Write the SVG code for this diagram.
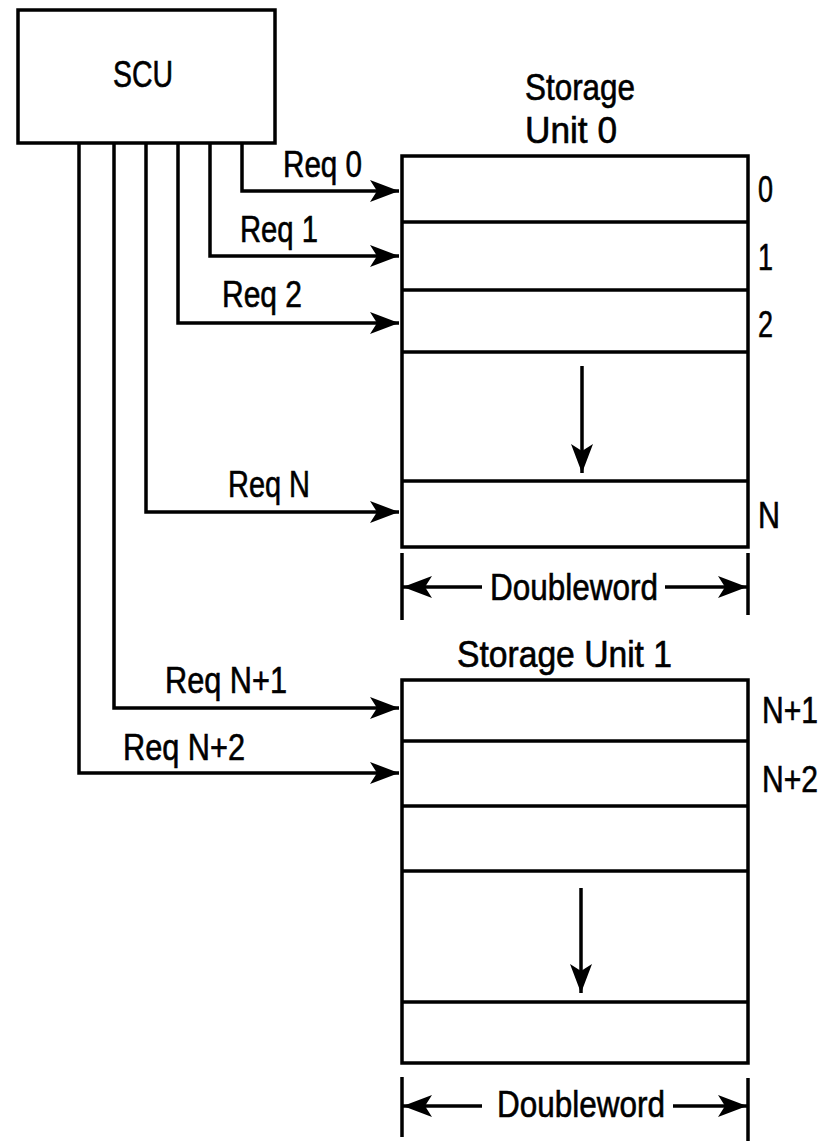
<svg xmlns="http://www.w3.org/2000/svg" width="827" height="1141" viewBox="0 0 827 1141">
<style>
.ln{stroke:#000;stroke-width:3.5;fill:none}
.bx{stroke:#000;stroke-width:3.5;fill:#fff}
.t{font-family:"Liberation Sans",Arial,sans-serif;font-size:36px;fill:#000;stroke:#000;stroke-width:0.6}
</style>
<defs>
<marker id="ah" viewBox="-30 -12 31 24" refX="0" refY="0" markerWidth="31" markerHeight="24" markerUnits="userSpaceOnUse" orient="auto">
<path d="M0,0 L-29,-11 L-22,0 L-29,11 Z" fill="#000"/>
</marker>
</defs>
<rect width="827" height="1141" fill="#fff"/>

<g id="scu">
<rect class="bx" x="18" y="10" width="257" height="133"/>
<text class="t" x="113" y="87" textLength="60" lengthAdjust="spacingAndGlyphs">SCU</text>
</g>

<g id="storage-unit-0">
<text class="t" x="525" y="100" textLength="110" lengthAdjust="spacingAndGlyphs">Storage</text>
<text class="t" x="525" y="143" textLength="92" lengthAdjust="spacingAndGlyphs">Unit 0</text>
<rect class="bx" x="402" y="156" width="346" height="391"/>
<line class="ln" x1="402" y1="222" x2="748" y2="222"/>
<line class="ln" x1="402" y1="290" x2="748" y2="290"/>
<line class="ln" x1="402" y1="352" x2="748" y2="352"/>
<line class="ln" x1="402" y1="481" x2="748" y2="481"/>
<line class="ln" x1="582" y1="366" x2="582" y2="473" marker-end="url(#ah)"/>
<text class="t" x="758" y="202" textLength="15" lengthAdjust="spacingAndGlyphs">0</text>
<text class="t" x="758" y="270" textLength="15" lengthAdjust="spacingAndGlyphs">1</text>
<text class="t" x="758" y="337" textLength="15" lengthAdjust="spacingAndGlyphs">2</text>
<text class="t" x="758" y="528" textLength="22" lengthAdjust="spacingAndGlyphs">N</text>
</g>

<g id="dim-0">
<line class="ln" x1="402" y1="553" x2="402" y2="620"/>
<line class="ln" x1="748" y1="553" x2="748" y2="615"/>
<line class="ln" x1="482" y1="587" x2="403" y2="587" marker-end="url(#ah)"/>
<line class="ln" x1="665" y1="587" x2="747" y2="587" marker-end="url(#ah)"/>
<text class="t" x="490" y="600" textLength="168" lengthAdjust="spacingAndGlyphs">Doubleword</text>
</g>

<g id="storage-unit-1">
<text class="t" x="457" y="667" textLength="215" lengthAdjust="spacingAndGlyphs">Storage Unit 1</text>
<rect class="bx" x="402" y="680" width="346" height="383"/>
<line class="ln" x1="402" y1="741" x2="748" y2="741"/>
<line class="ln" x1="402" y1="806" x2="748" y2="806"/>
<line class="ln" x1="402" y1="871" x2="748" y2="871"/>
<line class="ln" x1="402" y1="1002" x2="748" y2="1002"/>
<line class="ln" x1="581" y1="888" x2="581" y2="993" marker-end="url(#ah)"/>
<text class="t" x="762" y="723" textLength="56" lengthAdjust="spacingAndGlyphs">N+1</text>
<text class="t" x="762" y="792" textLength="56" lengthAdjust="spacingAndGlyphs">N+2</text>
</g>

<g id="dim-1">
<line class="ln" x1="402" y1="1077" x2="402" y2="1137"/>
<line class="ln" x1="748" y1="1078" x2="748" y2="1141"/>
<line class="ln" x1="482" y1="1106" x2="403" y2="1106" marker-end="url(#ah)"/>
<line class="ln" x1="673" y1="1106" x2="747" y2="1106" marker-end="url(#ah)"/>
<text class="t" x="497" y="1117" textLength="168" lengthAdjust="spacingAndGlyphs">Doubleword</text>
</g>

<g id="connectors">
<polyline class="ln" points="242,143 242,191 399,191" marker-end="url(#ah)"/>
<polyline class="ln" points="210,143 210,256 399,256" marker-end="url(#ah)"/>
<polyline class="ln" points="178,143 178,323 399,323" marker-end="url(#ah)"/>
<polyline class="ln" points="146,143 146,512 399,512" marker-end="url(#ah)"/>
<polyline class="ln" points="114,143 114,708 399,708" marker-end="url(#ah)"/>
<polyline class="ln" points="79,143 79,773 399,773" marker-end="url(#ah)"/>
<text class="t" x="283" y="177" textLength="79" lengthAdjust="spacingAndGlyphs">Req 0</text>
<text class="t" x="240" y="242" textLength="78" lengthAdjust="spacingAndGlyphs">Req 1</text>
<text class="t" x="222" y="307" textLength="80" lengthAdjust="spacingAndGlyphs">Req 2</text>
<text class="t" x="228" y="497" textLength="82" lengthAdjust="spacingAndGlyphs">Req N</text>
<text class="t" x="165" y="693" textLength="122" lengthAdjust="spacingAndGlyphs">Req N+1</text>
<text class="t" x="123" y="760" textLength="122" lengthAdjust="spacingAndGlyphs">Req N+2</text>
</g>
</svg>
